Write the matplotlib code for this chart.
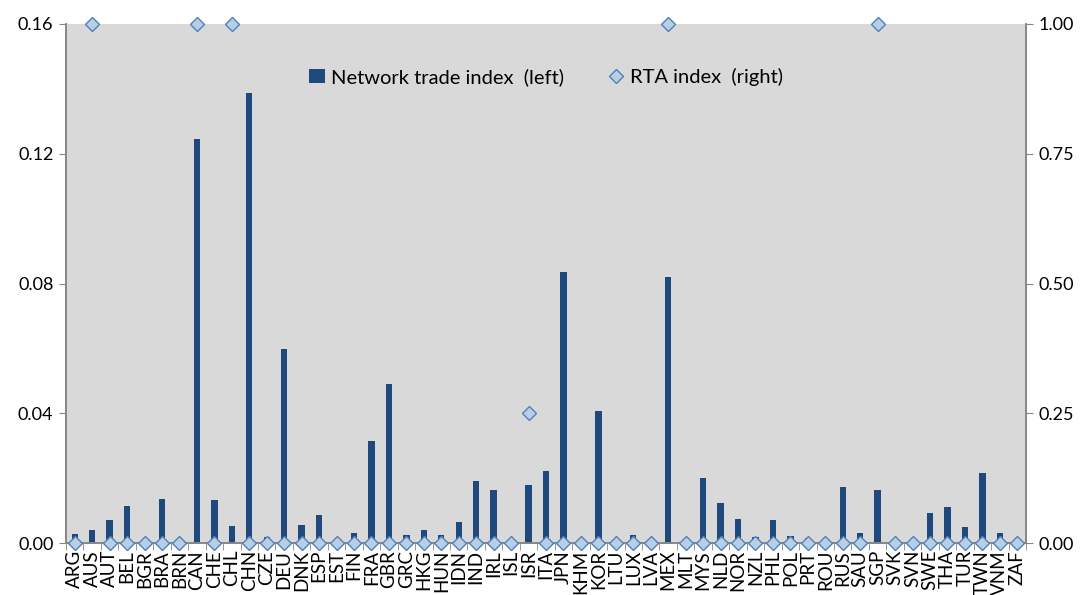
import matplotlib
matplotlib.use("Agg")
import matplotlib.pyplot as plt
import numpy as np
from matplotlib.ticker import FixedLocator

plt.rcParams['font.family'] = ['Lato', 'DejaVu Sans']

countries = ["ARG","AUS","AUT","BEL","BGR","BRA","BRN","CAN","CHE","CHL","CHN","CZE","DEU","DNK",
             "ESP","EST","FIN","FRA","GBR","GRC","HKG","HUN","IDN","IND","IRL","ISL","ISR","ITA",
             "JPN","KHM","KOR","LTU","LUX","LVA","MEX","MLT","MYS","NLD","NOR","NZL","PHL","POL",
             "PRT","ROU","RUS","SAU","SGP","SVK","SVN","SWE","THA","TUR","TWN","VNM","ZAF"]

network_trade = [0.0028,0.0040,0.0070,0.0115,0.0,0.0136,0.0,0.1245,0.0133,0.0053,0.1387,0.0020,0.0598,0.0055,
                 0.0087,0.0,0.0030,0.0314,0.0490,0.0025,0.0040,0.0024,0.0066,0.0191,0.0163,0.0,0.0178,0.0222,
                 0.0835,0.0,0.0407,0.0,0.0025,0.0,0.0820,0.0,0.0200,0.0122,0.0073,0.0018,0.0071,0.0022,
                 0.0014,0.0,0.0173,0.0030,0.0162,0.0,0.0,0.0093,0.0110,0.0050,0.0216,0.0030,0.0]

rta = [0,1,0,0,0,0,0,1,0,1,0,0,0,0,
       0,0,0,0,0,0,0,0,0,0,0,0,0.25,0,
       0,0,0,0,0,0,1,0,0,0,0,0,0,0,
       0,0,0,0,1,0,0,0,0,0,0,0,0]

left_ticks = [0.00, 0.04, 0.08, 0.12, 0.16]
right_ticks = [0.00, 0.25, 0.50, 0.75, 1.00]

bar_color = "#1f497d"
mk_face = "#b9cde5"
mk_edge = "#4f81bd"
axis_gray = "#868686"

fig = plt.figure(figsize=(10.83, 5.95), dpi=100)
ax = fig.add_axes([66/1083, 1-543/595, (1026-66)/1083, (543-24)/595])
ax.set_facecolor("#d9d9d9")

x = np.arange(len(countries))
b = ax.bar(x, network_trade, width=0.36, color=bar_color, zorder=2)
ax.set_xlim(-0.5, len(countries)-0.5)
ax.set_ylim(0, 0.16)
ax.set_yticks(left_ticks)
ax.set_yticklabels([f"{v:.2f}" for v in left_ticks], fontsize=13)
ax.set_xticks(x)
ax.set_xticklabels(countries, rotation=90, fontsize=13.5)
ax.tick_params(axis='x', length=0, pad=5)
ax.xaxis.set_minor_locator(FixedLocator(np.arange(-0.5, len(countries), 1)))
ax.tick_params(axis='x', which='minor', length=5, color=axis_gray, direction='out')
ax.tick_params(axis='y', length=5, color=axis_gray, direction='out', pad=4)

ax2 = ax.twinx()
ax2.set_ylim(0, 1.0)
ax2.set_yticks(right_ticks)
ax2.set_yticklabels([f"{v:.2f}" for v in right_ticks], fontsize=13)
ax2.tick_params(axis='y', length=5, color=axis_gray, direction='out', pad=4)
m, = ax2.plot(x, rta, linestyle='none', marker='D', markersize=7, markerfacecolor=mk_face,
              markeredgecolor=mk_edge, markeredgewidth=1.0, clip_on=False, zorder=5)

for a in (ax, ax2):
    a.spines['top'].set_visible(False)
    for s in ('left', 'right', 'bottom'):
        a.spines[s].set_color(axis_gray)
        a.spines[s].set_linewidth(1.2)

leg = ax2.legend([b, m], ["Network trade index  (left)", "RTA index  (right)"], loc='upper center',
                 bbox_to_anchor=(0.5, 0.95), ncol=2, frameon=False, fontsize=14.5,
                 handlelength=0.8, handletextpad=0.3, columnspacing=2.2)

fig.savefig("out.png", dpi=100)
